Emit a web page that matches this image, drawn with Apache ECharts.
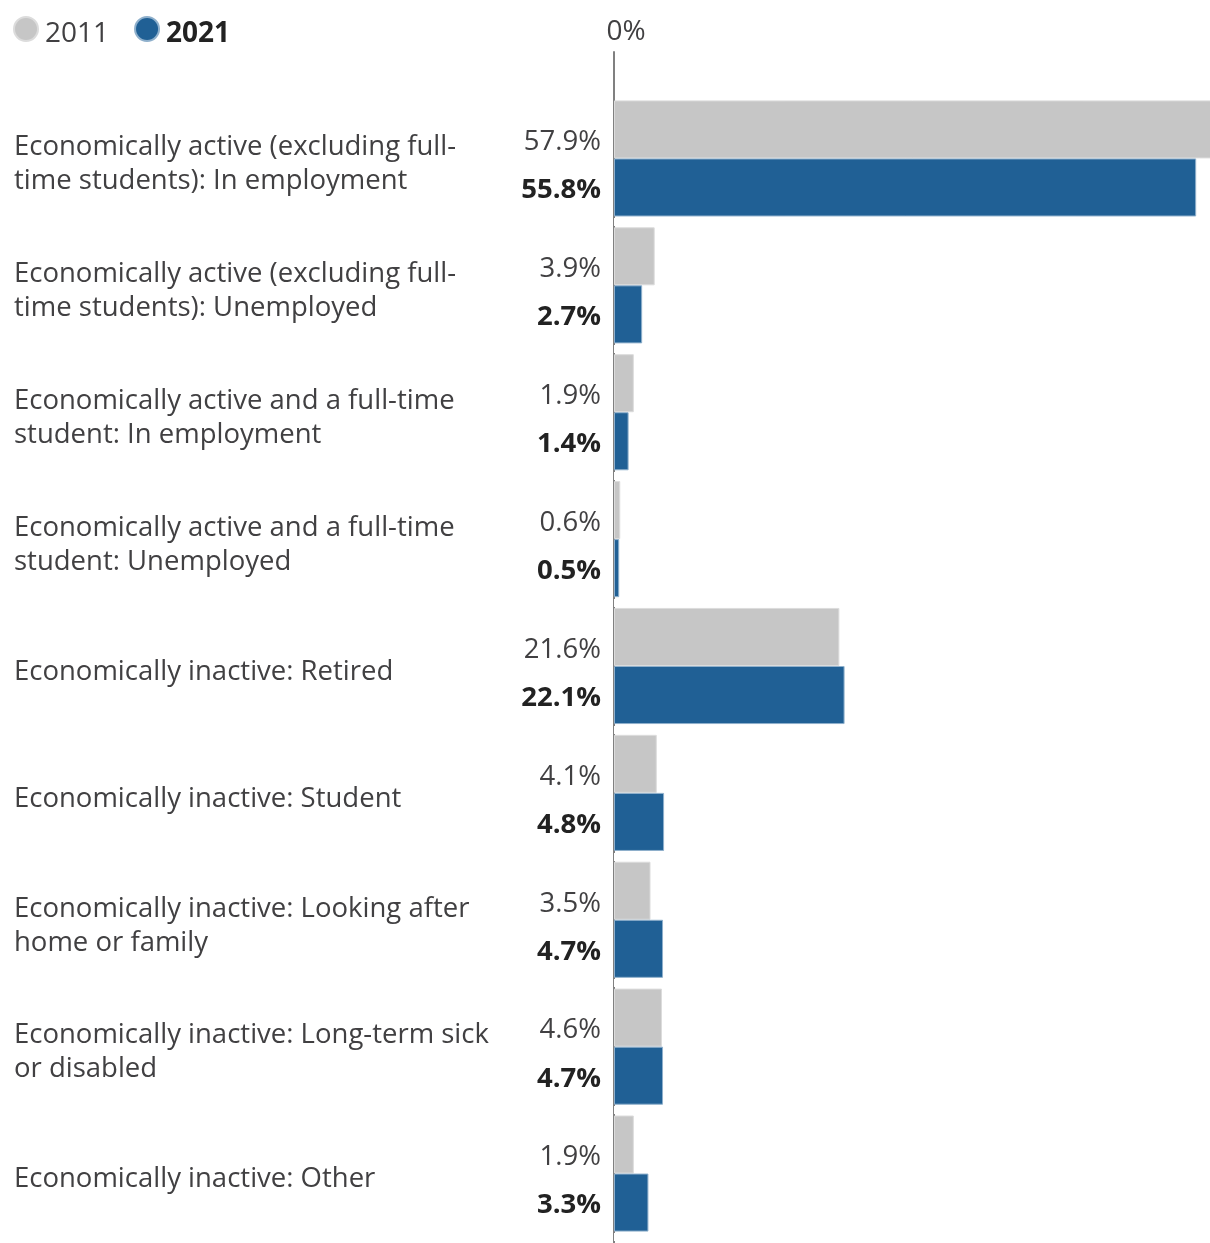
<!DOCTYPE html>
<html>
<head>
<meta charset="utf-8">
<script src="https://cdn.jsdelivr.net/npm/echarts@6/dist/echarts.min.js"></script>
<style>
    html,body{margin:0;padding:0;background:#fff;}
    #chart{width:1210px;height:1243px;}
</style>
</head>
<body>
<div id="chart"></div>
<script>
// categories (line breaks as in the picture)
var categories = [
    "Economically active (excluding full-\ntime students): In employment",
    "Economically active (excluding full-\ntime students): Unemployed",
    "Economically active and a full-time\nstudent: In employment",
    "Economically active and a full-time\nstudent: Unemployed",
    "Economically inactive: Retired",
    "Economically inactive: Student",
    "Economically inactive: Looking after\nhome or family",
    "Economically inactive: Long-term sick\nor disabled",
    "Economically inactive: Other"
];
var values2011 = [57.9, 3.9, 1.9, 0.6, 21.6, 4.1, 3.5, 4.6, 1.9];
var values2021 = [55.8, 2.7, 1.4, 0.5, 22.1, 4.8, 4.7, 4.7, 3.3];
var xTicks = [0];

var FONT = "'Open Sans', sans-serif";
var FS = 27.5;

var chart = {
    ele: "chart",
    obj: null,
    option: null,
    init: function(){
        this.obj = echarts.init(document.getElementById(this.ele));
        this.build();
        this.obj.setOption(this.option);
    },
    build: function(){
        this.option = {
            animation: false,
            textStyle: {fontFamily: FONT},
            legend: {
                left: 8, top: 11,
                icon: 'circle',
                itemWidth: 24, itemHeight: 24,
                itemGap: 25,
                textStyle: {
                    fontFamily: FONT, fontSize: 28, color: '#414042', padding: [10, 0, 0, 2],
                    rich: {b: {fontFamily: FONT, fontSize: 28, fontWeight: 'bold', color: '#222'}}
                },
                formatter: function(name){
                    return name == '2021' ? '{b|' + name + '}' : name;
                },
                data: ['2011', '2021']
            },
            grid: [
                {left: 614, width: 626, top: 95, bottom: 6, outerBoundsMode: 'none'},
                {left: 614, width: 626, top: 52, bottom: 0, outerBoundsMode: 'none'}   // only for the 0% axis line
            ],
            xAxis: [
                {gridIndex: 0, type: 'value', min: 0, max: 60, show: false},
                {
                    gridIndex: 1, type: 'value', min: 0, max: 60, interval: 60,
                    position: 'top',
                    axisLine: {show: false}, axisTick: {show: false}, splitLine: {show: false},
                    axisLabel: {
                        fontFamily: FONT, fontSize: 28, color: '#414042', margin: 6,
                        formatter: function(v){ return xTicks.indexOf(v) >= 0 ? v + '%' : ''; },
                        padding: [0, 0, 0, 24]
                    }
                }
            ],
            yAxis: [
                {
                    gridIndex: 0, type: 'category', data: categories, inverse: true,
                    z: 3,
                    axisLine: {show: false}, axisTick: {show: false},
                    // white split lines cut the 0% line into one piece per row
                    splitLine: {
                        show: true,
                        interval: function(i){ return i > 0; },
                        lineStyle: {color: '#fff', width: 8}
                    },
                    axisLabel: {
                        fontFamily: FONT, fontSize: FS, color: '#414042',
                        align: 'left', margin: 600, lineHeight: 34,
                        // a thin empty first line pushes the text down a few px
                        formatter: function(v){ return '{s| }\n' + v; },
                        rich: {s: {fontSize: 2, lineHeight: 12}}
                    }
                },
                {
                    gridIndex: 1, type: 'value', min: 0, max: 1,
                    axisLine: {show: true, lineStyle: {color: '#808080', width: 2}},
                    axisTick: {show: false}, axisLabel: {show: false}, splitLine: {show: false}
                }
            ],
            series: [
                {
                    name: '2011', type: 'bar', data: values2011,
                    barGap: '0%', barCategoryGap: '8.5%',
                    itemStyle: {color: '#c6c6c6', borderColor: '#dcdcdc', borderWidth: 1},
                    label: {
                        show: true, position: 'left', distance: 13, offset: [0, 13],
                        fontFamily: FONT, fontSize: FS, color: '#414042',
                        formatter: '{c}%'
                    }
                },
                {
                    name: '2021', type: 'bar', data: values2021,
                    barGap: '0%', barCategoryGap: '8.5%',
                    itemStyle: {color: '#206095', borderColor: '#8fb0cc', borderWidth: 1},
                    label: {
                        show: true, position: 'left', distance: 13, offset: [0, 3],
                        fontFamily: FONT, fontSize: FS, fontWeight: 'bold', color: '#222',
                        formatter: '{c}%'
                    }
                }
            ]
        };
    }
};

chart.init();
</script>
</body>
</html>
